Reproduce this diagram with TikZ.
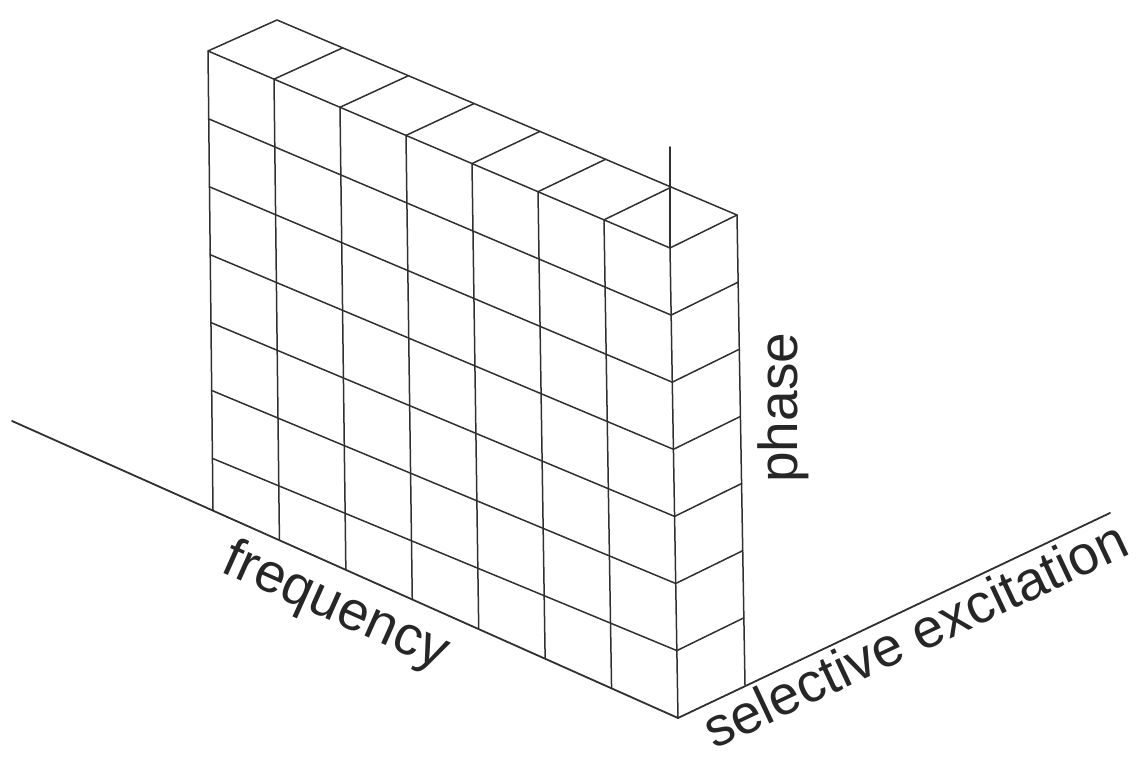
\documentclass[tikz,border=0pt]{standalone}
\usepackage{fontspec}
\setmainfont{Liberation Sans}
\usetikzlibrary{calc}
\definecolor{ink}{HTML}{303030}
\definecolor{txt}{HTML}{262626}
\begin{document}
\begin{tikzpicture}[x=0.5pt,y=-0.5pt,
  grid/.style={draw=ink,line width=0.75pt,line cap=round,line join=round},
  axis/.style={draw=ink,line width=0.9pt,line cap=round},
  lbl/.style={text=txt,inner sep=0pt,font=\fontsize{27.5}{33}\selectfont}]
\useasboundingbox (0,0) rectangle (1140,758);
% front face corners
\coordinate (TL) at (208,51);
\coordinate (TR) at (670,248);
\coordinate (BR) at (678,718);
\coordinate (BL) at (213,510);
% back edges
\coordinate (BTL) at (277,20);
\coordinate (BTR) at (737,215);
\coordinate (BBR) at (745,685);
% axis ends
\coordinate (Fend) at (12,421);
\coordinate (Send) at (1110,513);
\coordinate (Ptop) at (670,147);
% axes
\draw[axis] (Fend) -- (BR);
\draw[axis] (BR) -- (Send);
\draw[axis] (Ptop) -- (TR);
% front face outline
\draw[grid] (BL) -- (TL) -- (TR) -- (BR);
% front face verticals
\foreach \i in {1,...,6}
  \draw[grid] ($(TL)!\i/7!(TR)$) -- ($(BL)!\i/7!(BR)$);
% front face rows
\foreach \j in {1,...,6}
  \draw[grid] ({208+5*67.9*\j/459},{51+67.9*\j}) -- ({670+8*67.1*\j/470},{248+67.1*\j});
% top face
\draw[grid] (TL) -- (BTL) -- (BTR) -- (TR);
\foreach \i in {1,...,6}
  \draw[grid] ($(TL)!\i/7!(TR)$) -- ($(BTL)!\i/7!(BTR)$);
% right face
\draw[grid] (BTR) -- (BBR);
\foreach \j in {1,...,6}
  \draw[grid] ({670+8*67.1*\j/470},{248+67.1*\j}) -- ($(BTR)!\j/7!(BBR)$);
% labels
\node[lbl,anchor=base west,rotate=-24.1] (freq) at (219,571) {frequency};
\node[lbl,anchor=base west,rotate=25.2] (sel) at (714,750) {selective excitation};
\node[lbl,anchor=base west,rotate=90] (phase) at (797,483) {phase};
\end{tikzpicture}
\end{document}
